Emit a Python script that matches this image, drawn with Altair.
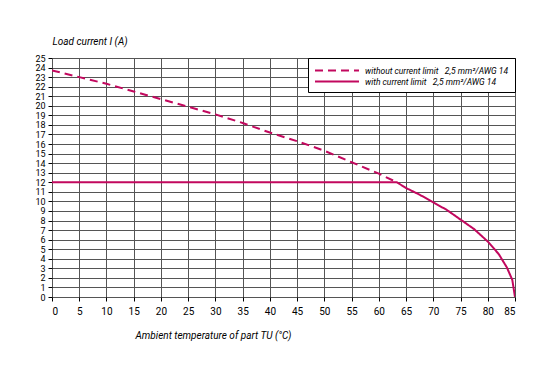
import altair as alt
import pandas as pd

# Values
temp_without = [0, 5, 10, 15, 20, 25, 30, 35, 40, 45, 50, 55, 60, 63.3]
curr_without = [23.7, 23.0, 22.3, 21.5, 20.7, 19.9, 19.1, 18.2, 17.2, 16.3, 15.3, 14.1, 12.9, 12.0]

temp_with = [0, 63.3, 65, 67.5, 70, 72.5, 75, 77.5, 80, 82, 83.5, 84.5, 85]
curr_with = [12.0, 12.0, 11.4, 10.7, 9.9, 9.1, 8.1, 7.1, 5.8, 4.5, 3.1, 1.8, 0.0]

NB = "\u00a0"
series_names = ["without current limit" + NB * 3 + "2,5 mm²/AWG 14",
                "with current limit" + NB * 3 + "2,5 mm²/AWG 14"]

x_ticks = list(range(0, 90, 5))
y_ticks = list(range(0, 26, 1))

rows = []
for t, c in zip(temp_without, curr_without):
    rows.append({"series": series_names[0], "T": t, "I": c, "order": t})
for t, c in zip(temp_with, curr_with):
    rows.append({"series": series_names[1], "T": t, "I": c, "order": t})
df = pd.DataFrame(rows)

FONT = "Roboto"
LINE = "#C2085E"

leg = alt.Legend(title=None, orient="top-right", offset=0,
                 fillColor="white", strokeColor="#000",
                 padding=6, symbolType="M-1,0H7", symbolSize=121,
                 symbolStrokeWidth=2, labelFontSize=8.5,
                 labelFontStyle="italic", labelColor="#000",
                 labelLimit=0, rowPadding=0, labelOffset=38)

chart = alt.Chart(df).mark_line(strokeWidth=2, clip=True).encode(
    x=alt.X("T:Q", scale=alt.Scale(domain=[0, 85], nice=False),
            axis=alt.Axis(values=x_ticks, title="Ambient temperature of part TU (°C)",
                          titleX=83, titleY=33, titleAlign="left", titleFontStyle="italic",
                          titleFontWeight="normal", titleFontSize=10, labelFontSize=10,
                          labelPadding=5, tickSize=4, domain=False,
                          gridColor="#555", gridWidth=1, tickColor="#000", labelColor="#000",
                          titleColor="#000")),
    y=alt.Y("I:Q", scale=alt.Scale(domain=[0, 25], nice=False),
            axis=alt.Axis(values=y_ticks, title="Load current I (A)",
                          titleAngle=0, titleX=0, titleY=-12, titleAlign="left",
                          titleFontStyle="italic", titleFontWeight="normal", titleFontSize=10,
                          labelFontSize=9, labelPadding=3, tickSize=4, domain=False,
                          gridColor="#555", gridWidth=1, tickColor="#000", labelColor="#000",
                          titleColor="#000")),
    color=alt.Color("series:N", scale=alt.Scale(domain=series_names, range=[LINE, LINE]),
                    legend=leg),
    strokeDash=alt.StrokeDash("series:N",
                              scale=alt.Scale(domain=series_names, range=[[8, 5], [1, 0]]),
                              legend=leg),
    order="order:Q",
).properties(
    width=463, height=239,
    autosize=alt.AutoSizeParams(type="none"),
    padding={"left": 44, "top": 50, "right": 34, "bottom": 62},
).configure_view(
    stroke="#000", strokeWidth=2
).configure(font=FONT, background="white")

chart.save("out.html", embed_options={"renderer": "svg", "actions": False})
